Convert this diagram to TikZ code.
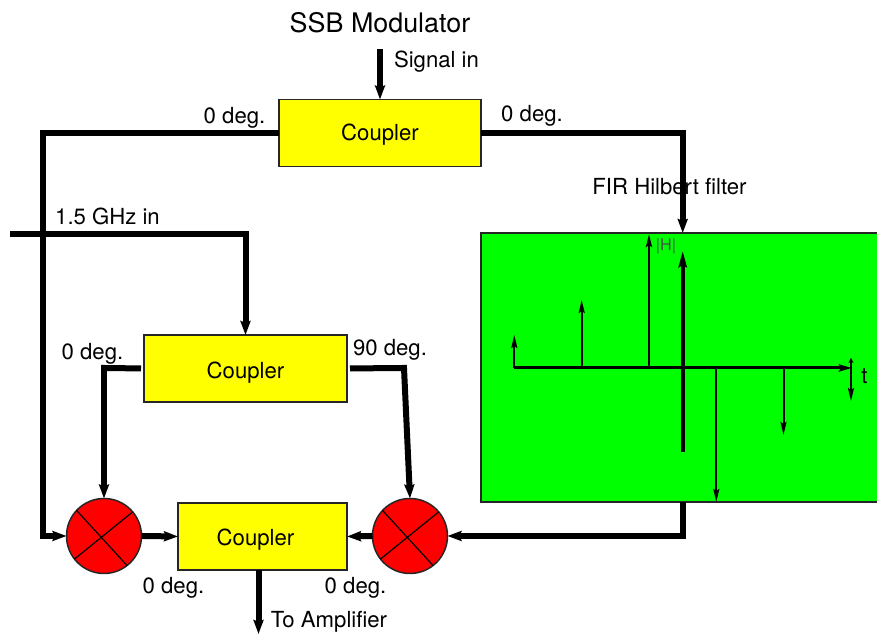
\documentclass[tikz,border=0pt]{standalone}
\usepackage{fontspec}
\setmainfont{TeX Gyre Heros}
\usetikzlibrary{arrows.meta}
\definecolor{boxyellow}{RGB}{255,255,0}
\definecolor{mixerred}{RGB}{255,0,0}
\definecolor{filtergreen}{RGB}{0,255,0}
\tikzset{
  coupler/.style={draw=black!85,fill=boxyellow,line width=0.015cm,inner sep=0,outer sep=0,minimum height=0.67cm},
  mixer/.style={circle,draw=black!85,fill=mixerred,line width=0.015cm,inner sep=0,outer sep=0,minimum size=0.75cm},
  filterbox/.style={rectangle,draw=black!85,fill=filtergreen,line width=0.015cm,inner sep=0,outer sep=0},
  feed/.style={line width=0.06cm,-{Stealth[length=0.14cm,width=0.10cm,inset=0.02cm]}},
  pulse/.style={line width=0.02cm,-{Stealth[length=0.13cm,width=0.06cm,inset=0.02cm]}},
  lab/.style={font=\fontsize{6.3}{7.5}\selectfont,inner sep=0,outer sep=0}
}

\begin{document}
\begin{tikzpicture}[scale=1]

\useasboundingbox (0,0) rectangle (8.77,6.36) ;

\node [coupler,minimum width=2.02cm,label={[lab,yshift=-0.02cm]center:Coupler}] (couplerA) at (3.80,5.03) {} ;
\node [coupler,minimum width=2.03cm,label={[lab,yshift=-0.04cm]center:Coupler}] (couplerB) at (2.455,2.675) {} ;
\node [coupler,minimum width=1.69cm,label={[lab,xshift=-0.07cm,yshift=-0.035cm]center:Coupler}] (couplerC) at (2.625,0.995) {} ;
\node [mixer] (mixerL) at (1.04,1.00) {} ;
\node [mixer] (mixerR) at (4.10,1.00) {} ;
\node [filterbox,minimum width=3.99cm,minimum height=2.69cm] (hilbert) at (6.805,2.685) {} ;

\draw [line width=0.012cm] (mixerL.137) -- (mixerL.308) ;
\draw [line width=0.012cm] (mixerL.218) -- (mixerL.40) ;
\draw [line width=0.012cm] (mixerR.137) -- (mixerR.308) ;
\draw [line width=0.012cm] (mixerR.218) -- (mixerR.40) ;

\coordinate (signal) at (3.80,5.87) ;
\coordinate (lo) at (0.10,4.02) ;
\coordinate (amp) at (2.585,0.02) ;
\coordinate (hilberttop) at (6.827,3.03) ;

\draw [feed] (signal) -- (couplerA.north) ;
\draw [feed] (couplerA.west) -- (0.43,5.03) -- (0.43,1.00) -- (mixerL.west) ;
\draw [feed] (couplerA.east) -- (6.827,5.03) -- (hilbert.north -| hilberttop) ;
\draw [feed] (lo) -- (2.455,4.02) -- (couplerB.north) ;
\draw [feed,shorten <=0.03cm] (couplerB.west) -- (1.04,2.68) -- (mixerL.north) ;
\draw [feed,shorten <=0.03cm] (couplerB.east) -- (4.04,2.68) -- (mixerR.north) ;
\draw [feed] (mixerL.east) -- (couplerC.west) ;
\draw [feed] (mixerR.west) -- (couplerC.east) ;
\draw [feed] (hilbert.south -| hilberttop) -- (6.827,1.00) -- (mixerR.east) ;
\draw [feed] (couplerC.south -| amp) -- (amp) ;

\draw [line width=0.03cm,-{Stealth[length=0.13cm,width=0.07cm,inset=0.02cm]}] (5.143,2.68) -- (8.52,2.68) ;
\draw [line width=0.04cm,-{Stealth[length=0.16cm,width=0.08cm,inset=0.02cm]}] (6.827,1.84) -- (6.827,3.85) ;
\draw [pulse] (5.143,2.68) -- (5.143,3.01) ;
\draw [pulse] (5.817,2.68) -- (5.817,3.36) ;
\draw [pulse,line width=0.025cm] (6.49,2.68) -- (6.49,4.02) ;
\draw [pulse] (7.163,2.68) -- (7.163,1.34) ;
\draw [pulse] (7.835,2.68) -- (7.835,2.01) ;
\draw [pulse] (8.51,2.68) -- (8.51,2.35) ;
\draw [pulse,-{Stealth[length=0.05cm,width=0.05cm]}] (8.51,2.68) -- (8.51,2.78) ;

\node [lab] (title) at (3.80,6.13) {\fontsize{7.65}{9}\selectfont SSB Modulator} ;
\node [lab] (signallab) at (4.365,5.74) {Signal in} ;
\node [lab] (zeroA) at (2.345,5.18) {0 deg.} ;
\node [lab] (zeroB) at (5.32,5.20) {0 deg.} ;
\node [lab] (lolab) at (1.075,4.20) {1.5 GHz in} ;
\node [lab] (hilbertlab) at (6.695,4.49) {FIR Hilbert filter} ;
\node [lab] (zeroC) at (0.925,2.82) {0 deg.} ;
\node [lab] (ninety) at (3.90,2.86) {90 deg.} ;
\node [lab] (zeroD) at (1.735,0.48) {0 deg.} ;
\node [lab] (zeroE) at (3.555,0.48) {0 deg.} ;
\node [lab] (amplab) at (3.29,0.14) {To Amplifier} ;
\node [lab,text=black!70] (hlab) at (6.66,3.90) {\fontsize{4.6}{5.5}\selectfont\textbar H\textbar} ;
\node [lab] (tlab) at (8.645,2.60) {t} ;

\end{tikzpicture}
\end{document}
